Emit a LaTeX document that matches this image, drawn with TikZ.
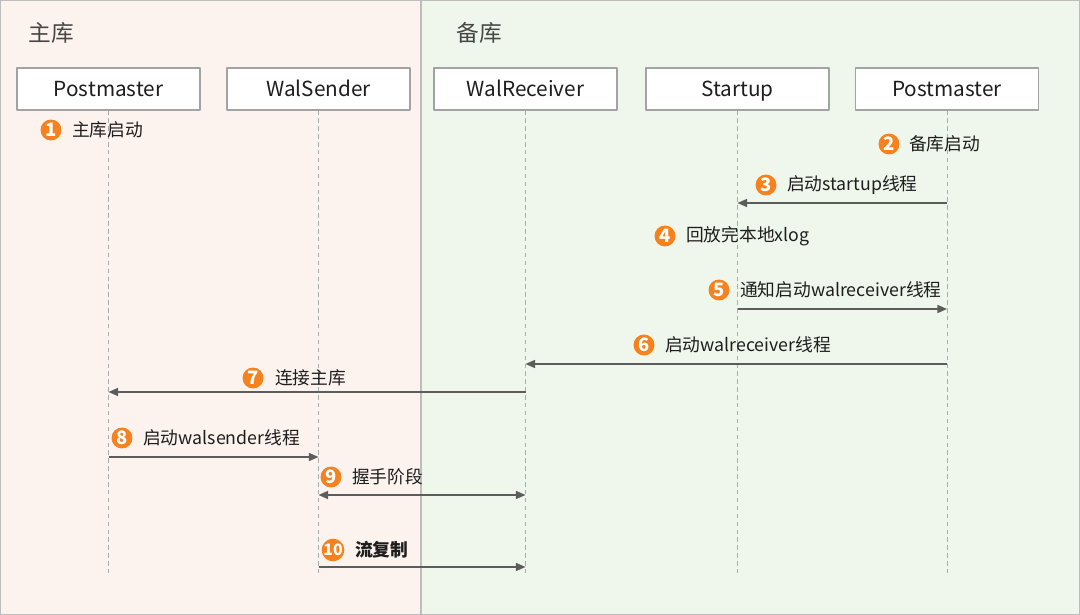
\documentclass[tikz,border=0pt]{standalone}
\usepackage{fontspec}
\setmainfont{Noto Sans CJK SC}
\usetikzlibrary{arrows.meta,positioning}
\definecolor{pinkbg}{HTML}{FCF3EF}
\definecolor{greenbg}{HTML}{EFF7EC}
\definecolor{framegray}{HTML}{BDBDBD}
\definecolor{boxgray}{HTML}{A3A3A3}
\definecolor{lifegray}{HTML}{ABABAB}
\definecolor{msggray}{HTML}{5C5C5C}
\definecolor{numorange}{HTML}{F5821F}
\definecolor{txt}{HTML}{1E1E1E}
\definecolor{titlegray}{HTML}{474747}
\tikzset{
  every picture/.style={line join=round, >={Triangle[length=5.5pt,width=4.6pt]}},
  actor/.style={draw=boxgray, fill=white, line width=0.6pt, minimum width=3.66cm, minimum height=0.84cm,
    inner sep=0pt, text height=0.95em, text depth=0.05em, font=\fontsize{11.8}{13}\selectfont, text=txt},
  life/.style={draw=lifegray, dashed, dash pattern=on 2.5pt off 2pt, line width=0.5pt},
  msg/.style={draw=msggray, line width=0.8pt},
  num/.style={circle, fill=numorange, minimum size=0.42cm, inner sep=0pt, text=white,
    font=\fontsize{10.5}{11}\selectfont\bfseries},
  lbl/.style={text=txt, font=\fontsize{10.1}{12}\selectfont, inner sep=0pt, anchor=west},
  title/.style={text=titlegray, font=\fontsize{12.9}{14}\selectfont, inner sep=0pt, anchor=west},
}

\begin{document}
\begin{tikzpicture}[x=0.02cm,y=-0.02cm]
\useasboundingbox (0,0) rectangle (1080,615);
\fill[pinkbg] (0,0) rectangle (421,615);
\fill[greenbg] (421,0) rectangle (1080,615);
\draw[framegray,line width=0.8pt] (0.5,0.5) rectangle (1079.5,614.5);
\draw[framegray,line width=0.8pt] (421,0) -- (421,615);

\node[title] (tmain) at (28,33) {主库};
\node[title] (tstby) at (456,33) {备库};

\node[actor] (pmA) at (108.5,89) {Postmaster};
\node[actor] (ws) at (318.5,89) {WalSender};
\node[actor] (wr) at (525.5,89) {WalReceiver};
\node[actor] (su) at (737.5,89) {Startup};
\node[actor] (pmB) at (947,89) {Postmaster};

\coordinate (bot) at (0,575);
\foreach \a in {pmA,ws,wr,su,pmB}
  \draw[life] (\a.south) -- (\a |- bot);

\coordinate (y3) at (0,203);
\coordinate (y5) at (0,309);
\coordinate (y6) at (0,364);
\coordinate (y7) at (0,392);
\coordinate (y8) at (0,457);
\coordinate (y9) at (0,495);
\coordinate (y10) at (0,567);

\draw[msg,->] (pmB |- y3) -- (su |- y3);
\draw[msg,->] (su |- y5) -- (pmB |- y5);
\draw[msg,->] (pmB |- y6) -- (wr |- y6);
\draw[msg,->] (wr |- y7) -- (pmA |- y7);
\draw[msg,->] (pmA |- y8) -- (ws |- y8);
\draw[msg,<->] (ws |- y9) -- (wr |- y9);
\draw[msg,->] (ws |- y10) -- (wr |- y10);

\node[num] (n1) at (51,130) {1};
\node[lbl,right=0.2cm of n1] (t1) {主库启动};
\node[num] (n2) at (889,144) {2};
\node[lbl,right=0.18cm of n2] (t2) {备库启动};
\node[num] (n3) at (766,185) {3};
\node[lbl,right=0.2cm of n3] (t3) {启动startup线程};
\node[num] (n4) at (665,236) {4};
\node[lbl,right=0.2cm of n4] (t4) {回放完本地xlog};
\node[num] (n5) at (719,290) {5};
\node[lbl,right=0.2cm of n5] (t5) {通知启动walreceiver线程};
\node[num] (n6) at (644,345) {6};
\node[lbl,right=0.2cm of n6] (t6) {启动walreceiver线程};
\node[num] (n7) at (253,378) {7};
\node[lbl,right=0.22cm of n7] (t7) {连接主库};
\node[num] (n8) at (122,438) {8};
\node[lbl,right=0.2cm of n8] (t8) {启动walsender线程};
\node[num] (n9) at (331,477) {9};
\node[lbl,right=0.2cm of n9] (t9) {握手阶段};
\node[num,font=\fontsize{9}{9}\selectfont\bfseries] (n10) at (333,550) {10};
\node[lbl,right=0.2cm of n10,font=\fontsize{10.1}{12}\selectfont\bfseries] (t10) {流复制};
\end{tikzpicture}
\end{document}
